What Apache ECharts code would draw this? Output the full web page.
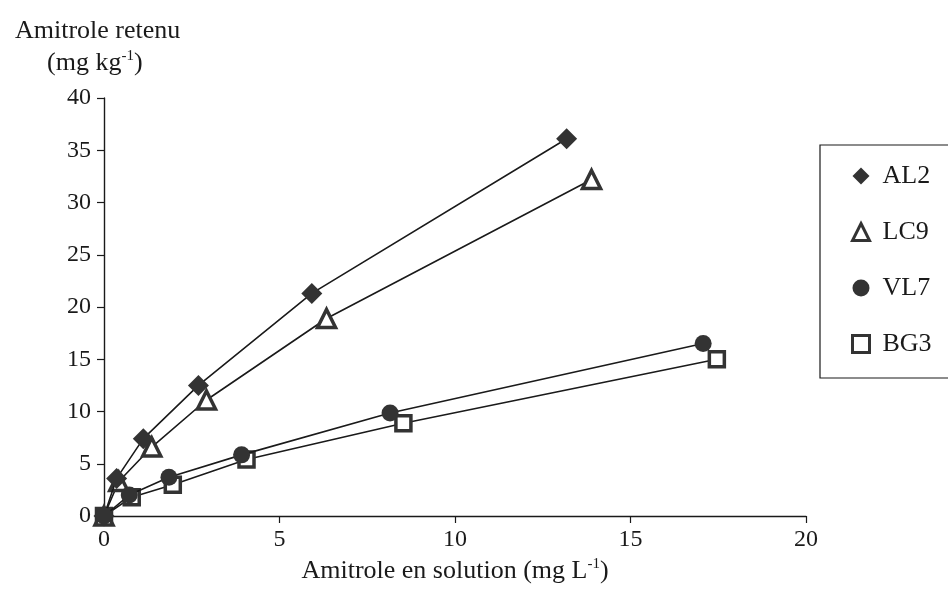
<!DOCTYPE html>
<html>
<head>
<meta charset="utf-8">
<script src="https://cdn.jsdelivr.net/npm/echarts@6/dist/echarts.min.js"></script>
<style>html,body{margin:0;padding:0;background:#fff}#c{width:948px;height:598px}</style>
</head>
<body>
<div id="c"></div>
<script>
const seriesNames = ['AL2', 'LC9', 'VL7', 'BG3'];
const al2X = [0, 0.36, 1.12, 2.69, 5.92, 13.18];
const al2Y = [0, 3.6, 7.4, 12.5, 21.3, 36.1];
const lc9X = [0, 0.42, 1.36, 2.92, 6.34, 13.89];
const lc9Y = [0, 3.3, 6.6, 11.1, 18.9, 32.2];
const vl7X = [0, 0.72, 1.85, 3.92, 8.15, 17.07];
const vl7Y = [0, 2.0, 3.7, 5.85, 9.85, 16.5];
const bg3X = [0, 0.79, 1.96, 4.06, 8.53, 17.46];
const bg3Y = [0, 1.8, 3.0, 5.4, 8.87, 15.0];
const xTicks = [0, 5, 10, 15, 20];
const yTicks = [0, 5, 10, 15, 20, 25, 30, 35, 40];

const FONT = 'Liberation Serif';
const DARK = '#333333';
const INK = '#1a1a1a';
const pair = (xs, ys) => xs.map((x, i) => [x, ys[i]]);

const chart = echarts.init(document.getElementById('c'), null, {renderer: 'canvas'});
const lineStyle = {color: INK, width: 1.6};
const filledStyle = {color: DARK, borderColor: DARK, borderWidth: 0};
const hollowStyle = {color: '#ffffff', borderColor: DARK, borderWidth: 3.5};
const mk = (name, xs, ys, symbol, size, filled, z) => ({
  name, type: 'line', data: pair(xs, ys), symbol, symbolSize: size,
  showSymbol: true, lineStyle, z,
  itemStyle: filled ? filledStyle : hollowStyle,
  emphasis: {disabled: true}, animation: false
});
const supRich = {
  n: {fontFamily: FONT, fontSize: 26, color: INK, fontWeight: 'normal'},
  s: {fontFamily: FONT, fontSize: 15, color: INK, fontWeight: 'normal', padding: [0, 0, 14, 0]}
};

chart.setOption({
  animation: false,
  backgroundColor: '#ffffff',
  textStyle: {fontFamily: FONT},
  title: [
    {text: 'Amitrole retenu', left: 10, top: 13,
     textStyle: {fontFamily: FONT, fontSize: 26, fontWeight: 'normal', color: INK}},
    {text: '{n|(mg kg}{s|-1}{n|)}', left: 42, top: 44,
     textStyle: {fontWeight: 'normal', rich: supRich}}
  ],
  grid: {left: 104, right: 142, top: 98, bottom: 82, containLabel: false},
  legend: {
    orient: 'vertical', left: 820, top: 145,
    padding: [18, 80, 21, 31], itemGap: 30, itemWidth: 17, itemHeight: 17,
    borderColor: INK, borderWidth: 1.2, borderRadius: 0,
    textStyle: {fontFamily: FONT, fontSize: 26, color: INK, lineHeight: 26, padding: [0, 0, 0, 8]},
    data: [
      {name: seriesNames[0], icon: 'diamond', itemStyle: filledStyle},
      {name: seriesNames[1], icon: 'triangle', itemStyle: {color: '#ffffff', borderColor: DARK, borderWidth: 3}},
      {name: seriesNames[2], icon: 'circle', itemStyle: filledStyle},
      {name: seriesNames[3], icon: 'rect', itemStyle: {color: '#ffffff', borderColor: DARK, borderWidth: 3}}
    ]
  },
  xAxis: {
    type: 'value', min: xTicks[0], max: xTicks[xTicks.length - 1], interval: 5,
    name: '{n|Amitrole en solution (mg L}{s|-1}{n|)}', nameLocation: 'middle', nameGap: 41,
    nameTextStyle: {rich: supRich},
    axisLine: {show: true, onZero: false, lineStyle: {color: INK, width: 1.4}},
    axisTick: {show: true, inside: false, length: 7, lineStyle: {color: INK, width: 1.2}},
    axisLabel: {fontFamily: FONT, fontSize: 24, color: INK, margin: 12},
    splitLine: {show: false}
  },
  yAxis: {
    type: 'value', min: yTicks[0], max: yTicks[yTicks.length - 1], interval: 5,
    axisLine: {show: true, onZero: false, lineStyle: {color: INK, width: 1.4}},
    axisTick: {show: true, inside: false, length: 7, lineStyle: {color: INK, width: 1.2}},
    axisLabel: {fontFamily: FONT, fontSize: 24, color: INK, margin: 13},
    splitLine: {show: false}
  },
  series: [
    mk('AL2', al2X, al2Y, 'diamond', 21, true, 4),
    mk('LC9', lc9X, lc9Y, 'triangle', 18, false, 3),
    mk('VL7', vl7X, vl7Y, 'circle', 17, true, 5),
    mk('BG3', bg3X, bg3Y, 'rect', 15, false, 2)
  ]
});
</script>
</body>
</html>
